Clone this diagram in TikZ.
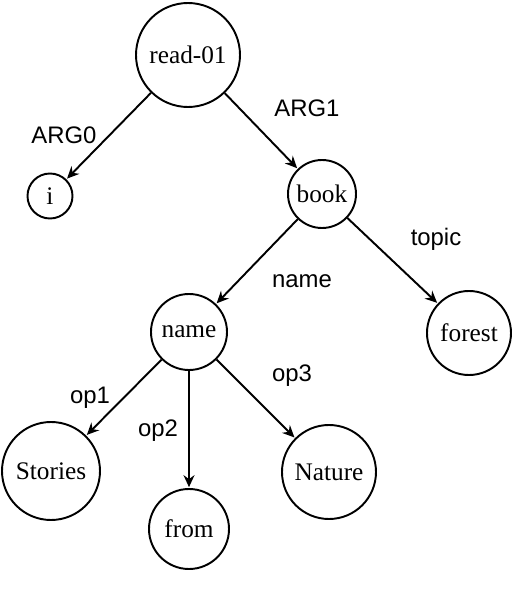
\documentclass[tikz,border=0pt]{standalone}
\usepackage{fontspec}
\setmainfont{Liberation Serif}
\setsansfont{Liberation Sans}
\usetikzlibrary{arrows.meta}

\begin{document}
\begin{tikzpicture}[every node/.style={font=\fontsize{14.4}{17}\selectfont},
  concept/.style={draw,circle,line width=1.1pt,inner sep=0pt},
  rel/.style={font=\fontsize{13.6}{16}\selectfont\sffamily},
  arc/.style={line width=1.1pt,-{Stealth[length=2.4mm,width=2.2mm,inset=0.8mm]},shorten >=0.5pt}]
  \useasboundingbox (0,0) rectangle (10.28,12.08);

  \node[concept,minimum size=2.08cm] (read) at (3.76,10.98) {read-01};
  \node[concept,minimum size=0.9cm] (i) at (1.0,8.16) {i};
  \node[concept,minimum size=1.36cm] (book) at (6.44,8.2) {book};
  \node[concept,minimum size=1.68cm] (forest) at (9.38,5.42) {forest};
  \node[concept,minimum size=1.52cm] (name) at (3.78,5.44) {name};
  \node[concept,minimum size=1.96cm] (stories) at (1.02,2.66) {Stories};
  \node[concept,minimum size=1.6cm] (from) at (3.78,1.5) {from};
  \node[concept,minimum size=1.88cm] (nature) at (6.58,2.64) {Nature};

  \draw[arc] (read) -- (i);
  \draw[arc] (read) -- (book);
  \draw[arc] (book) -- (name);
  \draw[arc] (book) -- (forest);
  \draw[arc] (name) -- (stories);
  \draw[arc] (name) -- (from);
  \draw[arc] (name) -- (nature);

  \node[rel] (larg0) at (1.28,9.38) {ARG0};
  \node[rel] (larg1) at (6.14,9.92) {ARG1};
  \node[rel] (lname) at (6.04,6.46) {name};
  \node[rel] (ltopic) at (8.72,7.3) {topic};
  \node[rel] (lop1) at (1.8,4.12) {op1};
  \node[rel] (lop2) at (3.16,3.46) {op2};
  \node[rel] (lop3) at (5.84,4.56) {op3};
\end{tikzpicture}
\end{document}
